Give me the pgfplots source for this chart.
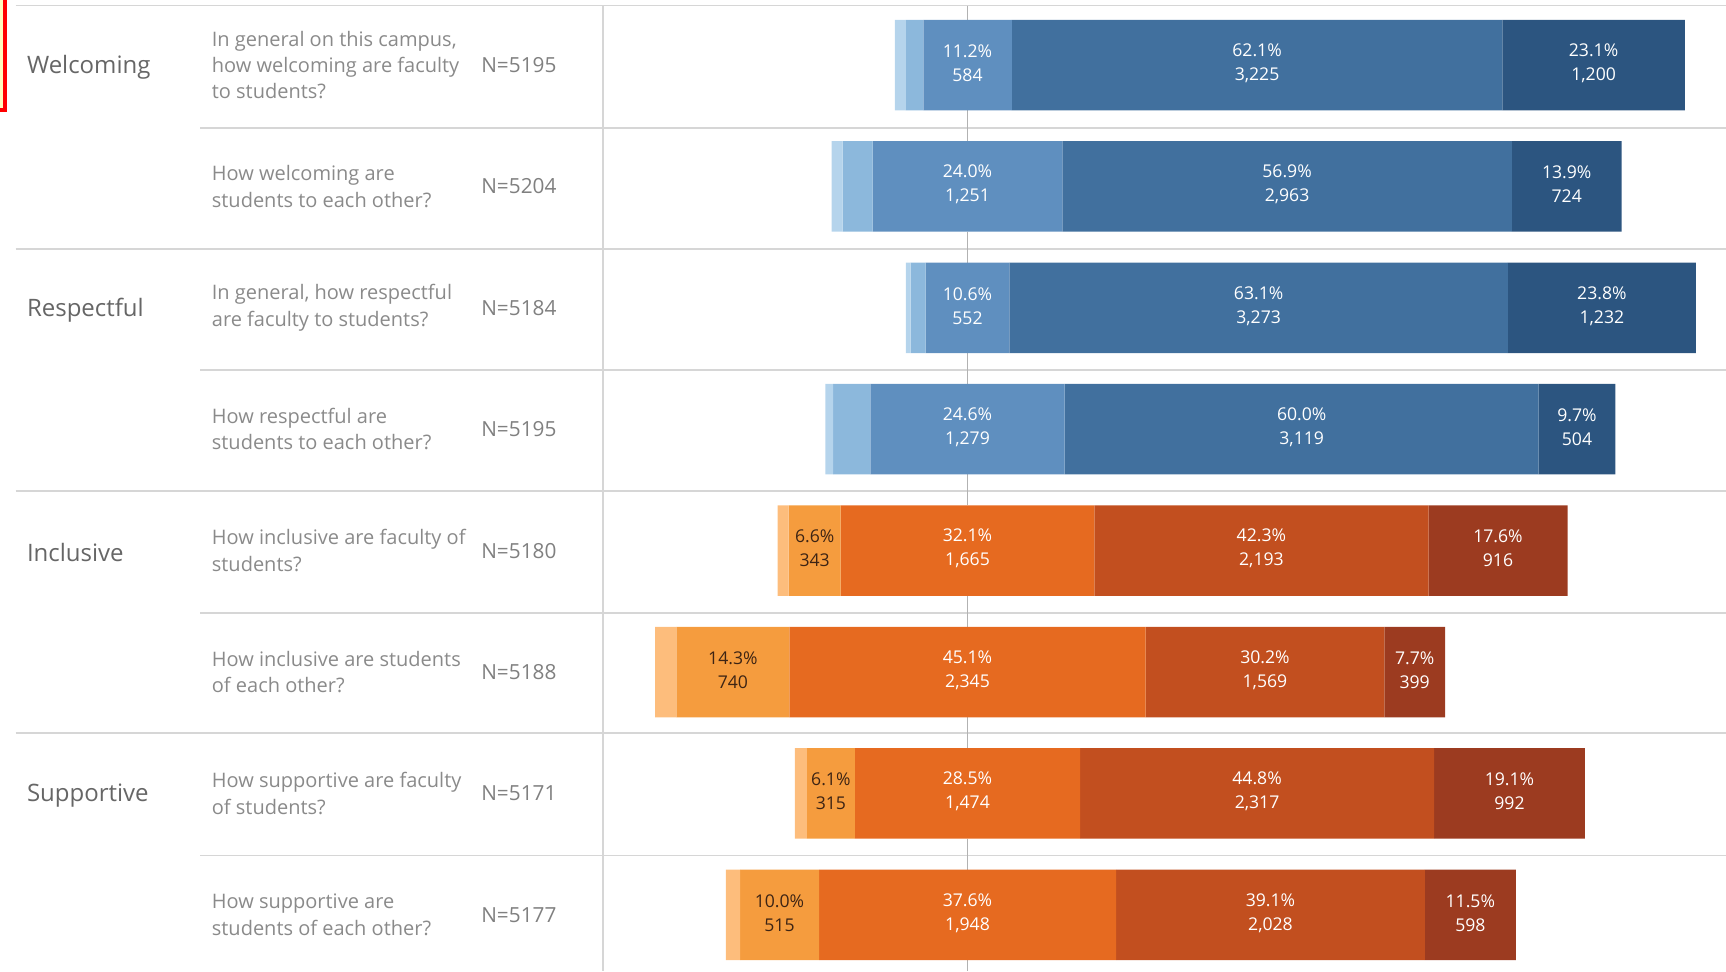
\documentclass[border=0pt]{standalone}
\usepackage{fontspec}
\setmainfont{Open Sans}
\usepackage{pgfplots}
\usepackage{pgfplotstable}
\pgfplotsset{compat=1.18}

\definecolor{blueA}{HTML}{B5D4EC}
\definecolor{blueB}{HTML}{8CB8DC}
\definecolor{blueC}{HTML}{5F8FBF}
\definecolor{blueD}{HTML}{41709E}
\definecolor{blueE}{HTML}{2C5580}
\definecolor{orA}{HTML}{FDBD7C}
\definecolor{orB}{HTML}{F59C3E}
\definecolor{orC}{HTML}{E66A20}
\definecolor{orD}{HTML}{C24F1F}
\definecolor{orE}{HTML}{9C3B20}
\definecolor{gridc}{HTML}{D6D6D6}
\definecolor{catc}{HTML}{666666}
\definecolor{qc}{HTML}{8A8A8A}
\definecolor{nc}{HTML}{808080}
\definecolor{darklab}{HTML}{3D2414}

% y = row centre (px from top), segment shares in percent
\pgfplotstableread{
y a b c d e
65.0 1.4 2.2 11.2 62.1 23.1
186.4 1.4 3.8 24.0 56.9 13.9
307.8 0.6 1.9 10.6 63.1 23.8
429.2 1.0 4.7 24.6 60.0 9.7
}\bluedata
\pgfplotstableread{
y a b c d e
550.6 1.4 6.6 32.1 42.3 17.6
672.0 2.7 14.3 45.1 30.2 7.7
793.4 1.5 6.1 28.5 44.8 19.1
914.8 1.8 10.0 37.6 39.1 11.5
}\orangedata

\pgfplotsset{base/.style={
  width=863pt,height=485.5pt,scale only axis,
  xmin=-122.47,xmax=96.01,ymin=0,ymax=971,y dir=reverse,
  hide axis,clip=false},
  bars/.style={base,xbar stacked,stack negative=on previous,bar width=90.5}}

\newcommand{\lab}[4]{\node[align=center,text=white,font=\fontsize{8.8}{12}\selectfont] at (axis cs:#1,#2-2) {#3\\#4};}
\newcommand{\labd}[4]{\node[align=center,text=darklab,font=\fontsize{8.8}{12}\selectfont] at (axis cs:#1,#2-2) {#3\\#4};}
\newcommand{\cat}[2]{\node[anchor=west,text=catc,font=\fontsize{12}{14}\selectfont,inner sep=0pt] at (axis cs:-119.1,#1) {#2};}
\newcommand{\q}[2]{\node[anchor=west,align=left,text=qc,font=\fontsize{10}{13.2}\selectfont,inner sep=0pt] at (axis cs:-95.7,#1) {#2};}
\newcommand{\nn}[2]{\node[anchor=west,text=nc,font=\fontsize{10.4}{12}\selectfont,inner sep=0pt] at (axis cs:-61.6,#1) {#2};}
\newcommand{\hl}[2]{\draw[gridc,line width=0.8pt] (axis cs:#1,#2) -- (axis cs:96.01,#2);}
\newcommand{\zl}[2]{\draw[black!30,line width=0.6pt] (axis cs:0,#1) -- (axis cs:0,#2);}

\begin{document}
\begin{tikzpicture}
\useasboundingbox (0,0) rectangle (863pt,485.5pt);
\begin{axis}[base]
  % highlight box at the top-left corner
  \fill[yellow!25] (axis cs:-122.47,0) rectangle (axis cs:-121.84,110);
  \draw[red,line width=1.6pt] (axis cs:-121.84,-2) -- (axis cs:-121.84,110) -- (axis cs:-123,110);
  % grid lines
  \hl{-120.5}{5.5}
  \hl{-97.15}{127.7}\hl{-97.15}{369.9}\hl{-97.15}{613.1}\hl{-97.15}{855.3}
  \hl{-120.5}{248.8}\hl{-120.5}{491.0}\hl{-120.5}{733.1}
  \draw[gridc,line width=0.8pt] (axis cs:-46.14,5.5) -- (axis cs:-46.14,971);
  % zero line, visible only between the bars
  \zl{5.5}{19.75}\zl{110.25}{141.15}\zl{231.65}{262.55}\zl{353.05}{383.95}
  \zl{474.45}{505.35}\zl{595.85}{626.75}\zl{717.25}{748.15}\zl{838.65}{869.55}\zl{960.05}{971}
\end{axis}
\begin{axis}[bars]
  \addplot[draw=none,fill=none] table[x expr={-(\thisrow{a}+\thisrow{b}+0.5*\thisrow{c})},y=y]{\bluedata};
  \addplot[draw=none,fill=blueA] table[x=a,y=y]{\bluedata};
  \addplot[draw=none,fill=blueB] table[x=b,y=y]{\bluedata};
  \addplot[draw=none,fill=blueC] table[x=c,y=y]{\bluedata};
  \addplot[draw=none,fill=blueD] table[x=d,y=y]{\bluedata};
  \addplot[draw=none,fill=blueE] table[x=e,y=y]{\bluedata};
\end{axis}
\begin{axis}[bars]
  \addplot[draw=none,fill=none] table[x expr={-(\thisrow{a}+\thisrow{b}+0.5*\thisrow{c})},y=y]{\orangedata};
  \addplot[draw=none,fill=orA] table[x=a,y=y]{\orangedata};
  \addplot[draw=none,fill=orB] table[x=b,y=y]{\orangedata};
  \addplot[draw=none,fill=orC] table[x=c,y=y]{\orangedata};
  \addplot[draw=none,fill=orD] table[x=d,y=y]{\orangedata};
  \addplot[draw=none,fill=orE] table[x=e,y=y]{\orangedata};
\end{axis}
\begin{axis}[base]
  % bar labels
  \lab{0}{65}{11.2\%}{584}\lab{36.65}{65}{62.1\%}{3,225}\lab{79.25}{65}{23.1\%}{1,200}
  \lab{0}{186.4}{24.0\%}{1,251}\lab{40.45}{186.4}{56.9\%}{2,963}\lab{75.85}{186.4}{13.9\%}{724}
  \lab{0}{307.8}{10.6\%}{552}\lab{36.85}{307.8}{63.1\%}{3,273}\lab{80.3}{307.8}{23.8\%}{1,232}
  \lab{0}{429.2}{24.6\%}{1,279}\lab{42.3}{429.2}{60.0\%}{3,119}\lab{77.15}{429.2}{9.7\%}{504}
  \labd{-19.35}{550.6}{6.6\%}{343}\lab{0}{550.6}{32.1\%}{1,665}\lab{37.2}{550.6}{42.3\%}{2,193}\lab{67.15}{550.6}{17.6\%}{916}
  \labd{-29.7}{672}{14.3\%}{740}\lab{0}{672}{45.1\%}{2,345}\lab{37.65}{672}{30.2\%}{1,569}\lab{56.6}{672}{7.7\%}{399}
  \labd{-17.3}{793.4}{6.1\%}{315}\lab{0}{793.4}{28.5\%}{1,474}\lab{36.65}{793.4}{44.8\%}{2,317}\lab{68.6}{793.4}{19.1\%}{992}
  \labd{-23.8}{914.8}{10.0\%}{515}\lab{0}{914.8}{37.6\%}{1,948}\lab{38.35}{914.8}{39.1\%}{2,028}\lab{63.65}{914.8}{11.5\%}{598}
  % left texts
  \cat{67}{Welcoming}\cat{309.8}{Respectful}\cat{552.6}{Inclusive}\cat{795.4}{Supportive}
  \q{65}{In general on this campus,\\how welcoming are faculty\\to students?}
  \q{186.4}{How welcoming are\\students to each other?}
  \q{307.8}{In general, how respectful\\are faculty to students?}
  \q{429.2}{How respectful are\\students to each other?}
  \q{550.6}{How inclusive are faculty of\\students?}
  \q{672}{How inclusive are students\\of each other?}
  \q{793.4}{How supportive are faculty\\of students?}
  \q{914.8}{How supportive are\\students of each other?}
  \nn{65}{N=5195}\nn{186.4}{N=5204}\nn{307.8}{N=5184}\nn{429.2}{N=5195}
  \nn{550.6}{N=5180}\nn{672}{N=5188}\nn{793.4}{N=5171}\nn{914.8}{N=5177}
\end{axis}
\end{tikzpicture}
\end{document}
